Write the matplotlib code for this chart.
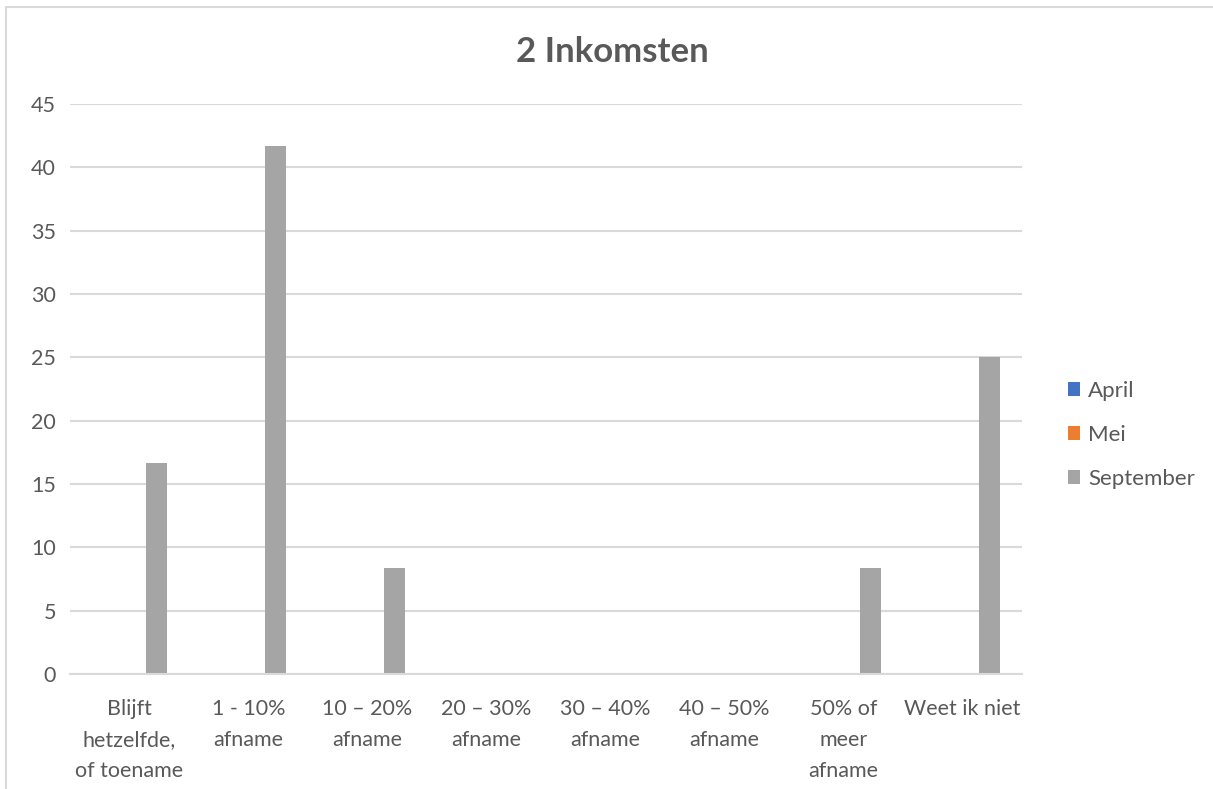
import numpy as np
import matplotlib.pyplot as plt
from matplotlib.patches import Rectangle

plt.rcParams.update({'font.size': 15, 'font.family': ['Lato', 'DejaVu Sans']})

categories = ['Blijft\nhetzelfde,\nof toename', '1 - 10%\nafname', '10 \u2013 20%\nafname',
              '20 \u2013 30%\nafname', '30 \u2013 40%\nafname', '40 \u2013 50%\nafname',
              '50% of\nmeer\nafname', 'Weet ik niet']
april = [0, 0, 0, 0, 0, 0, 0, 0]
mei = [0, 0, 0, 0, 0, 0, 0, 0]
september = [16.67, 41.67, 8.33, 0, 0, 0, 8.33, 25.0]

grey_txt = '#595959'
x = np.arange(len(categories))
w = 0.175

fig = plt.figure(figsize=(12.13, 7.89), dpi=100)
ax = fig.add_axes([70/1213, 1-674/789, (1022-70)/1213, (674-104)/789])

ax.bar(x - 0.23, april, w, color='#4472c4', label='April')
ax.bar(x, mei, w, color='#ed7d31', label='Mei')
ax.bar(x + 0.23, september, w, color='#a5a5a5', label='September')

ax.set_ylim(0, 45)
ax.set_xlim(-0.5, len(categories) - 0.5)
ax.set_yticks(range(0, 46, 5))
ax.yaxis.grid(True, color='#d9d9d9', lw=1.5)
ax.set_axisbelow(True)
for s in ['top', 'right', 'left']:
    ax.spines[s].set_visible(False)
ax.spines['bottom'].set_color('#d9d9d9')
ax.spines['bottom'].set_linewidth(1.5)
ax.tick_params(length=0, colors=grey_txt, labelsize=15.5)
ax.tick_params(axis='y', pad=10)
ax.tick_params(axis='x', pad=18)
ax.set_xticks(x)
ax.set_xticklabels(categories, linespacing=1.7, va='top')

fig.text(612/1213, 1-52/789, '2 Inkomsten', ha='center', va='center',
         fontsize=25, fontweight='bold', color=grey_txt)

leg = fig.legend(loc='center left', bbox_to_anchor=(1048/1213, 1-435/789),
                 frameon=False, handlelength=0.55, handleheight=0.55,
                 handletextpad=0.35, labelspacing=1.08, fontsize=16)
for t in leg.get_texts():
    t.set_color(grey_txt)

fig.patches.append(Rectangle((6/1213, -0.05), 1.1, 1.05 - 7/789, transform=fig.transFigure,
                             fill=False, edgecolor='#d9d9d9', lw=1.5))

plt.savefig('out.png', dpi=100)
